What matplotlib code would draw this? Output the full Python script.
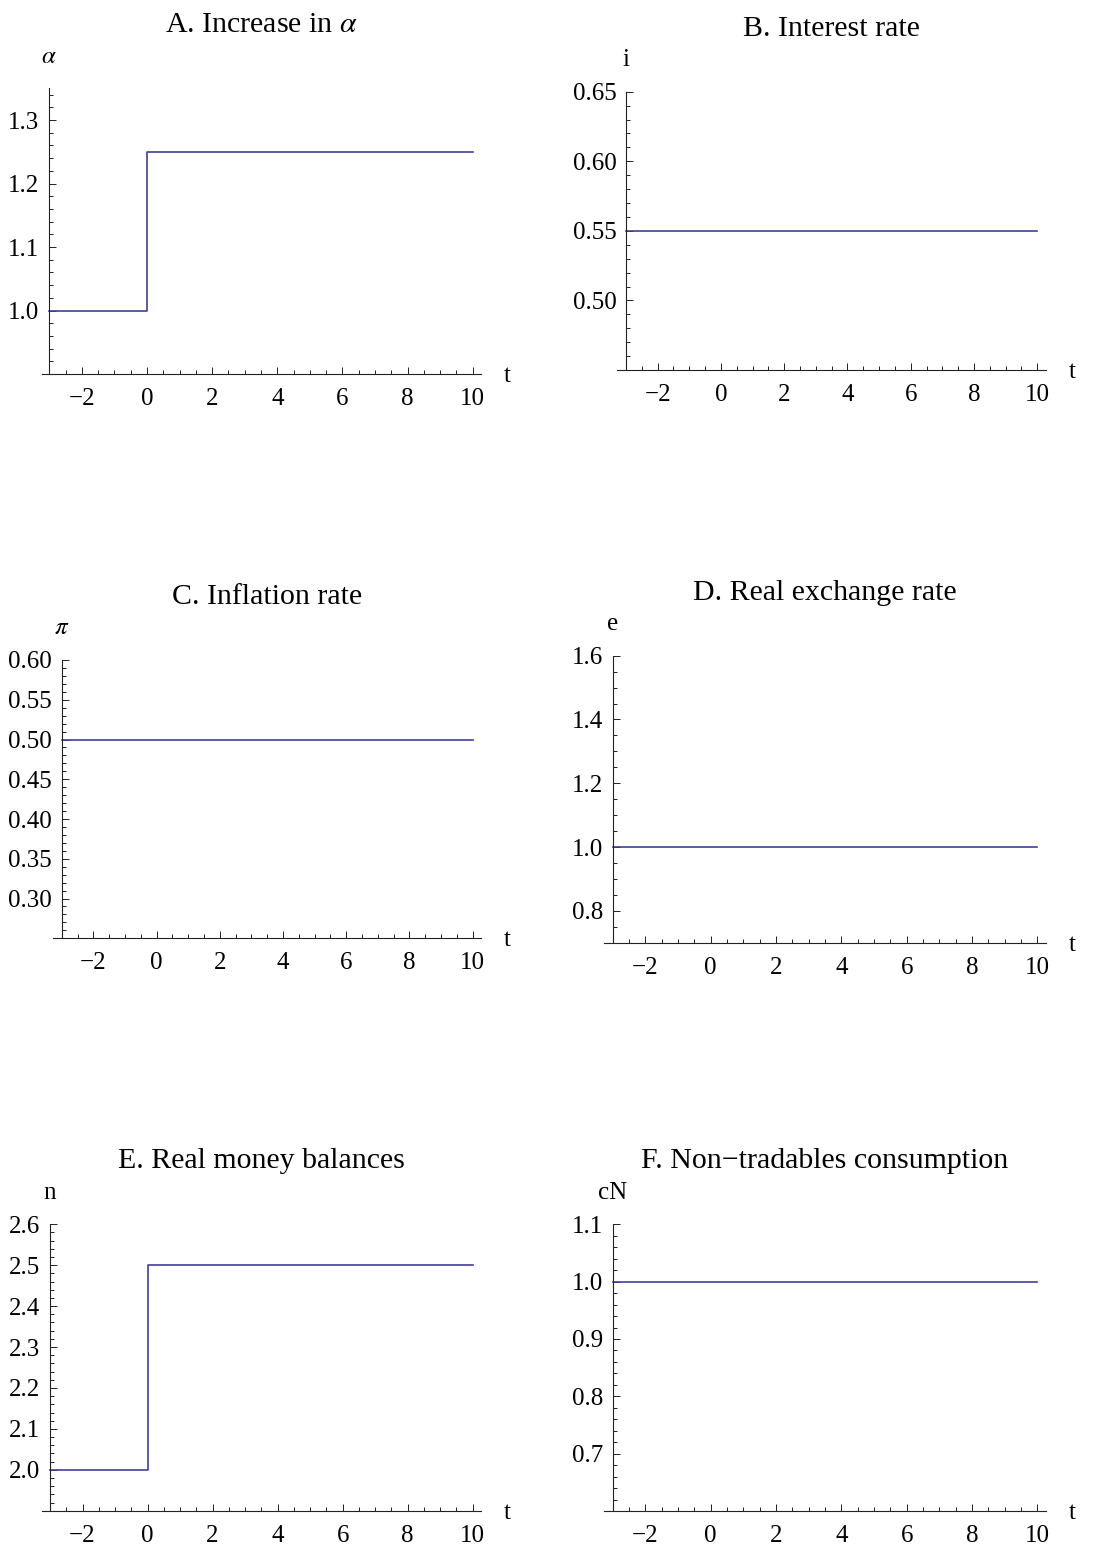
import matplotlib
matplotlib.use("Agg")
import matplotlib.pyplot as plt
from matplotlib.ticker import FixedLocator, MultipleLocator, FormatStrFormatter

plt.rcParams['font.family'] = ['Liberation Serif', 'DejaVu Serif']
plt.rcParams['mathtext.fontset'] = 'stix'

# trayectorias escalonadas: el shock llega en t = 0
t = [-3, 0, 0, 10]

alpha = [1.0, 1.0, 1.25, 1.25]
interest = [0.55, 0.55, 0.55, 0.55]
inflation = [0.50, 0.50, 0.50, 0.50]
exch_rate = [1.0, 1.0, 1.0, 1.0]
money = [2.0, 2.0, 2.5, 2.5]
cons_nt = [1.0, 1.0, 1.0, 1.0]

titles = ["A. Increase in $\\alpha$", "B. Interest rate", "C. Inflation rate",
          "D. Real exchange rate", "E. Real money balances",
          "F. Non\u2212tradables consumption"]
ylabels = ["$\\alpha$", "i", "$\\pi$", "e", "n", "cN"]
ylims = [(0.9, 1.35), (0.45, 0.65), (0.25, 0.60), (0.7, 1.6), (1.9, 2.6), (0.6, 1.1)]
yticks = [[1.0, 1.1, 1.2, 1.3],
          [0.50, 0.55, 0.60, 0.65],
          [0.30, 0.35, 0.40, 0.45, 0.50, 0.55, 0.60],
          [0.8, 1.0, 1.2, 1.4, 1.6],
          [2.0, 2.1, 2.2, 2.3, 2.4, 2.5, 2.6],
          [0.7, 0.8, 0.9, 1.0, 1.1]]
yminor = [0.02, 0.01, 0.01, 0.05, 0.02, 0.02]
yfmt = ['%.1f', '%.2f', '%.2f', '%.1f', '%.1f', '%.1f']
xticks = [-2, 0, 2, 4, 6, 8, 10]
series = [alpha, interest, inflation, exch_rate, money, cons_nt]

# posiciones en pixeles: (izq, arriba, der, abajo, eje y, marca t=10)
W, H = 1109, 1550
cajas = [
    (41.7, 88.3, 481.0, 374.0, 49.3, 472.7),
    (617.3, 91.7, 1045.7, 370.0, 626.0, 1037.3),
    (53.3, 660.0, 481.0, 938.3, 61.7, 472.7),
    (604.3, 655.7, 1045.7, 942.7, 612.7, 1037.3),
    (41.7, 1224.3, 481.0, 1510.7, 50.0, 472.7),
    (604.3, 1224.3, 1045.7, 1511.0, 612.7, 1037.3),
]

LINEA = "#40409a"
EJE = "#222222"
PX = 0.72  # puntos por pixel a 100 dpi
FS = 18

fig = plt.figure(figsize=(W / 100, H / 100), dpi=100)

for k in range(6):
    izq, arr, der, aba, yax, diez = cajas[k]
    ax = fig.add_axes([izq / W, 1 - aba / H, (der - izq) / W, (aba - arr) / H])
    unidad = (diez - yax) / 13.0
    ax.set_xlim(-3 - (yax - izq) / unidad, 10 + (der - diez) / unidad)
    ax.set_ylim(*ylims[k])

    ax.plot(t, series[k], color=LINEA, lw=1.2, clip_on=False)

    for s in ("top", "right"):
        ax.spines[s].set_visible(False)
    ax.spines["left"].set_position(("data", -3))
    for s in ("left", "bottom"):
        ax.spines[s].set_color(EJE)
        ax.spines[s].set_linewidth(0.8)

    ax.xaxis.set_major_locator(FixedLocator(xticks))
    ax.xaxis.set_minor_locator(MultipleLocator(0.5))
    ax.yaxis.set_major_locator(FixedLocator(yticks[k]))
    ax.yaxis.set_minor_locator(MultipleLocator(yminor[k]))
    ax.yaxis.set_major_formatter(FormatStrFormatter(yfmt[k]))

    ax.tick_params(which="both", direction="in", colors=EJE, width=0.7,
                   top=False, right=False, labelcolor="black")
    ax.tick_params(which="major", length=5, labelsize=FS)
    ax.tick_params(which="minor", length=2.7)
    ax.tick_params(axis="y", which="major", pad=7.0)
    ax.tick_params(axis="x", which="major", pad=10)

    ax.annotate(titles[k], xy=(0.5, 1), xycoords="axes fraction",
                xytext=(0, 56 * PX), textcoords="offset points",
                ha="center", va="baseline", fontsize=21.5)
    ax.annotate(ylabels[k], xy=(-3, ylims[k][1]), xycoords="data",
                xytext=(0, 25.5 * PX), textcoords="offset points",
                ha="center", va="baseline", fontsize=FS)
    ax.annotate("t", xy=(1, 0), xycoords="axes fraction",
                xytext=(26 * PX, -8 * PX), textcoords="offset points",
                ha="center", va="baseline", fontsize=FS)

fig.savefig("out.png", dpi=100, facecolor="white")
